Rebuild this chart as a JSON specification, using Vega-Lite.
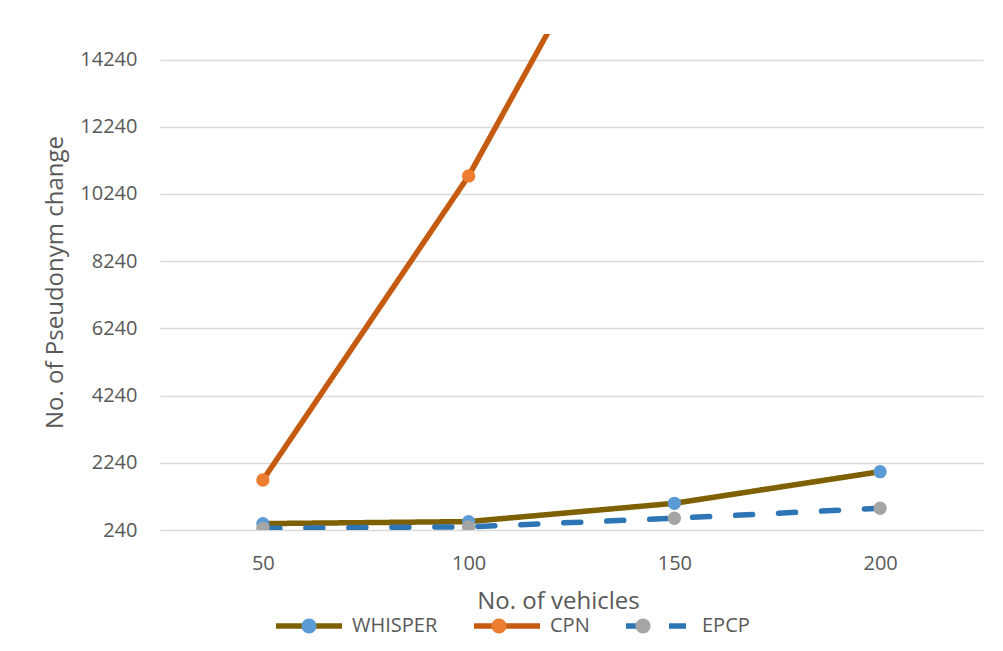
{
  "$schema": "https://vega.github.io/schema/vega-lite/v6.json",
  "autosize": "none",
  "width": 823,
  "height": 496,
  "padding": {"left": 160, "top": 34, "right": 20, "bottom": 121},
  "background": "white",
  "config": {
    "font": "Open Sans",
    "view": {"stroke": null}
  },
  "data": {
    "values": [
      {"vehicles": 50, "series": "WHISPER", "changes": 430},
      {"vehicles": 100, "series": "WHISPER", "changes": 490},
      {"vehicles": 150, "series": "WHISPER", "changes": 1035},
      {"vehicles": 200, "series": "WHISPER", "changes": 1975},
      {"vehicles": 50, "series": "CPN", "changes": 1728},
      {"vehicles": 100, "series": "CPN", "changes": 10776},
      {"vehicles": 150, "series": "CPN", "changes": 21850},
      {"vehicles": 200, "series": "CPN", "changes": 33000},
      {"vehicles": 50, "series": "EPCP", "changes": 290},
      {"vehicles": 100, "series": "EPCP", "changes": 335},
      {"vehicles": 150, "series": "EPCP", "changes": 590},
      {"vehicles": 200, "series": "EPCP", "changes": 888}
    ]
  },
  "encoding": {
    "x": {
      "field": "vehicles",
      "type": "ordinal",
      "scale": {"type": "point", "padding": 0.5},
      "axis": {
        "title": "No. of vehicles",
        "labelAngle": 0,
        "domain": false,
        "ticks": false,
        "tickSize": 0,
        "grid": false,
        "labelPadding": 23,
        "labelFontSize": 20,
        "labelColor": "#595959",
        "titleFontSize": 24,
        "titleFontWeight": "normal",
        "titleColor": "#595959",
        "titleX": 398,
        "titleY": 78,
        "titleAlign": "center",
        "titleBaseline": "alphabetic"
      }
    },
    "y": {
      "field": "changes",
      "type": "quantitative",
      "scale": {"domain": [240, 15000], "nice": false, "zero": false},
      "axis": {
        "title": "No. of Pseudonym change",
        "values": [240, 2240, 4240, 6240, 8240, 10240, 12240, 14240],
        "format": "d",
        "domain": false,
        "ticks": false,
        "tickSize": 0,
        "grid": true,
        "gridColor": "#D9D9D9",
        "gridWidth": 1.3,
        "labelPadding": 23,
        "labelFontSize": 20,
        "labelColor": "#595959",
        "titleFontSize": 24,
        "titleFontWeight": "normal",
        "titleColor": "#595959",
        "titleAngle": 270,
        "titleX": -98,
        "titleY": 248,
        "titleAlign": "center",
        "titleBaseline": "alphabetic"
      }
    }
  },
  "layer": [
    {
      "mark": {"type": "line", "strokeWidth": 5.5, "strokeCap": "round", "strokeJoin": "round", "clip": true},
      "encoding": {
        "stroke": {
          "field": "series",
          "type": "nominal",
          "scale": {
            "domain": ["WHISPER", "CPN", "EPCP"],
            "range": ["#7F6000", "#C55A11", "#2E75B6"]
          },
          "legend": {
            "title": null,
            "orient": "none",
            "direction": "horizontal",
            "legendX": 113,
            "legendY": 556,
            "padding": 0,
            "symbolType": "M-1,0L1,0",
            "symbolSize": 4356,
            "symbolStrokeWidth": 5.5,
            "labelFontSize": 20,
            "labelColor": "#595959",
            "labelOffset": 7,
            "columnPadding": 25
          }
        },
        "strokeDash": {
          "field": "series",
          "type": "nominal",
          "scale": {
            "domain": ["WHISPER", "CPN", "EPCP"],
            "range": [[1, 0], [1, 0], [17, 26]]
          }
        }
      }
    },
    {
      "mark": {"type": "point", "filled": true, "size": 177, "opacity": 1, "clip": true},
      "encoding": {
        "fill": {
          "field": "series",
          "type": "nominal",
          "scale": {
            "domain": ["EPCP", "CPN", "WHISPER"],
            "range": ["#A5A5A5", "#ED7D31", "#5B9BD5"]
          },
          "legend": {
            "title": null,
            "values": ["WHISPER", "CPN", "EPCP"],
            "orient": "none",
            "direction": "horizontal",
            "legendX": 113,
            "legendY": 556,
            "padding": 0,
            "symbolType": "M0.2083,0A0.2083,0.2083,0,1,1,-0.2083,0A0.2083,0.2083,0,1,1,0.2083,0Z",
            "symbolSize": 5184,
            "symbolStrokeWidth": 0,
            "symbolOpacity": 1,
            "labelFontSize": 20,
            "labelOpacity": 0,
            "labelOffset": 7,
            "columnPadding": 25
          }
        }
      }
    }
  ]
}
